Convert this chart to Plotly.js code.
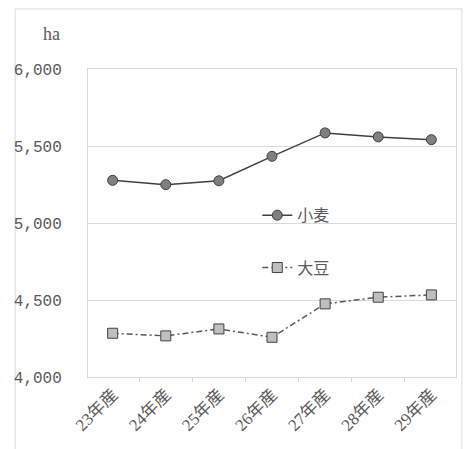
<!DOCTYPE html>
<html>
<head>
<meta charset="utf-8">
<script src="https://cdn.plot.ly/plotly-3.0.1.min.js"></script>
<style>
html,body{margin:0;padding:0;background:#fff;}
#chart{width:465px;height:449px;}
</style>
</head>
<body>
<div id="chart"></div>
<script>
var categories = ["23年産","24年産","25年産","26年産","27年産","28年産","29年産"];
var wheat = [5277, 5249, 5274, 5433, 5585, 5559, 5541];
var soy = [4284, 4267, 4312, 4258, 4475, 4518, 4533];
var seriesNames = ["小麦", "大豆"];
var yTicks = [4000, 4500, 5000, 5500, 6000];
var unitLabel = "ha";

var textColor = "#595959";
var gridColor = "#d9d9d9";

var traces = [
  {
    x: categories, y: wheat, name: seriesNames[0], type: "scatter", mode: "lines+markers",
    line: {color: "#404040", width: 1.5},
    marker: {symbol: "circle", size: 10, color: "#7f7f7f", line: {color: "#404040", width: 1}},
    legend: "legend"
  },
  {
    x: categories, y: soy, name: seriesNames[1], type: "scatter", mode: "lines+markers",
    line: {color: "#595959", width: 1.5, dash: "6px,3px,2px,3px"},
    marker: {symbol: "square", size: 10, color: "#bfbfbf", line: {color: "#404040", width: 1}},
    legend: "legend2"
  }
];

var legendFont = {family: "Noto Sans CJK JP", size: 16, color: textColor};

var layout = {
  width: 465, height: 449,
  margin: {l: 88, r: 9, t: 69, b: 72},
  paper_bgcolor: "#ffffff", plot_bgcolor: "#ffffff",
  showlegend: true,
  legend: {x: 0.46, y: 0.525, xanchor: "left", yanchor: "middle", bgcolor: "rgba(0,0,0,0)", font: legendFont, itemwidth: 30},
  legend2: {x: 0.46, y: 0.355, xanchor: "left", yanchor: "middle", bgcolor: "rgba(0,0,0,0)", font: legendFont, itemwidth: 30},
  xaxis: {
    type: "category",
    tickangle: -45,
    tickson: "boundaries",
    ticks: "outside", ticklen: 4, tickcolor: gridColor,
    showline: true, linecolor: gridColor, linewidth: 1, mirror: true,
    showgrid: false,
    tickfont: {family: "Liberation Serif, Noto Sans CJK JP", size: 17, color: textColor},
    fixedrange: true
  },
  yaxis: {
    range: [4000, 6000],
    tickvals: yTicks,
    tickformat: ",",
    ticks: "",
    showline: true, linecolor: gridColor, linewidth: 1, mirror: true,
    showgrid: true, gridcolor: gridColor, gridwidth: 1,
    zeroline: false,
    ticklabelstandoff: 22,
    tickfont: {family: "Liberation Mono", size: 16, color: textColor},
    fixedrange: true
  },
  annotations: [
    {text: unitLabel, xref: "paper", yref: "paper", x: -0.10, y: 1.115, xanchor: "center", yanchor: "middle",
     showarrow: false, font: {family: "Liberation Serif", size: 18, color: textColor}}
  ],
  shapes: [
    {type: "rect", xref: "paper", yref: "paper", x0: -0.198, x1: 1.016, y0: -0.3, y1: 1.195,
     line: {color: gridColor, width: 1}, fillcolor: "rgba(0,0,0,0)", layer: "below"}
  ]
};

Plotly.newPlot("chart", traces, layout, {displayModeBar: false, staticPlot: true});
</script>
</body>
</html>
